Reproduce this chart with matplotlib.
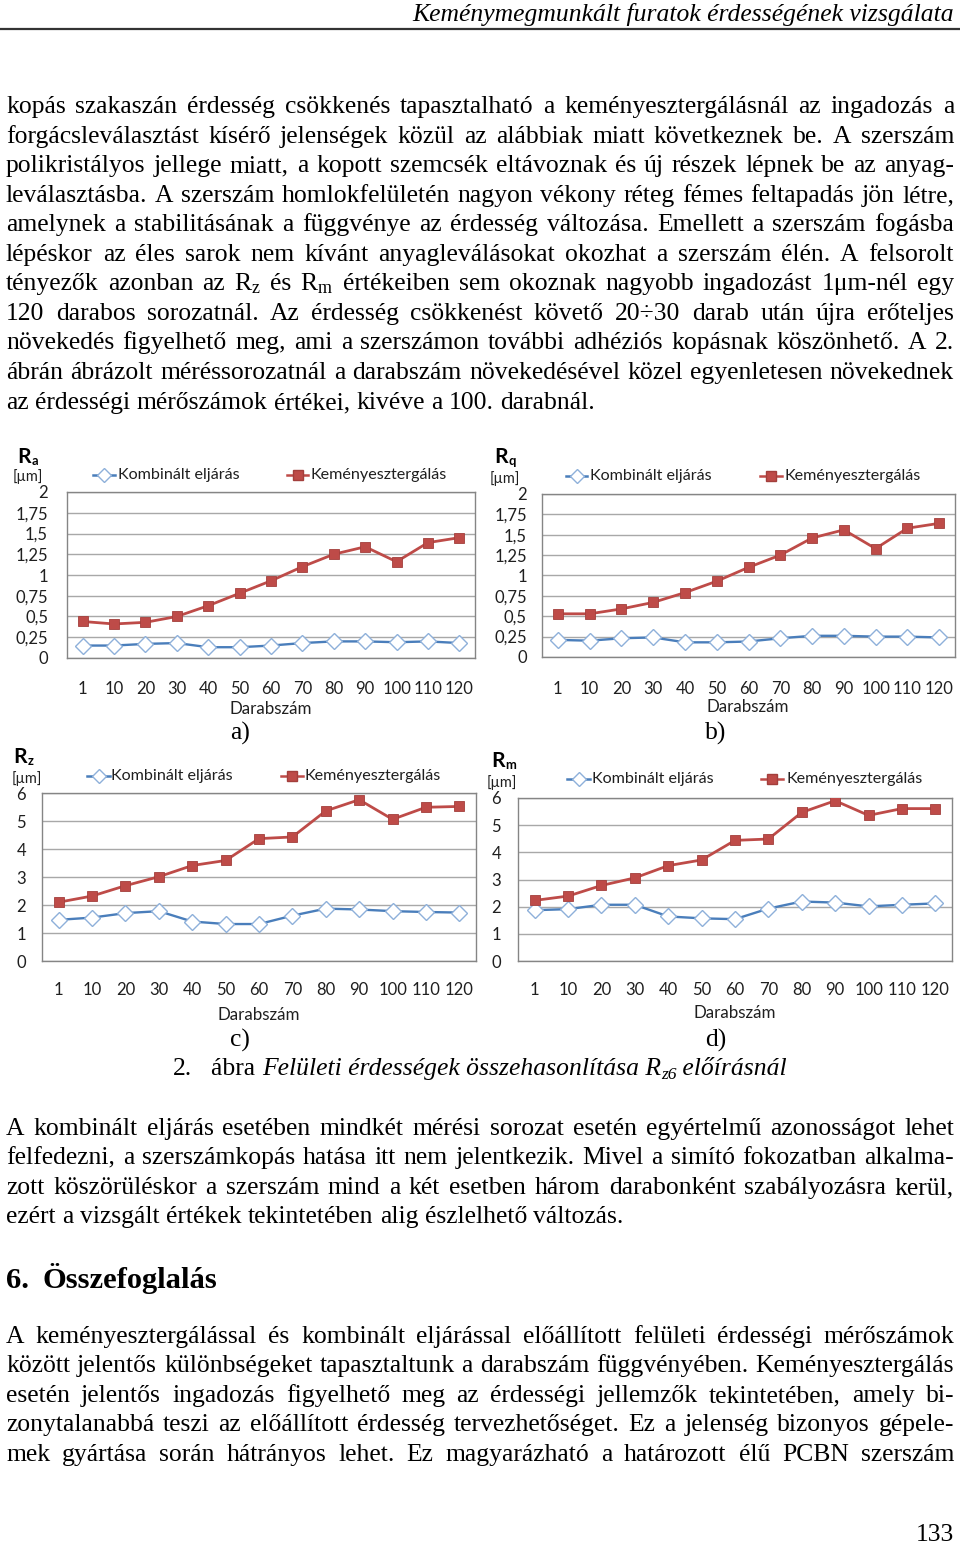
import matplotlib
matplotlib.use('Agg')
import matplotlib.pyplot as plt
from matplotlib.lines import Line2D

# ---------------- data ----------------
categories = ['1', '10', '20', '30', '40', '50', '60', '70', '80', '90', '100', '110', '120']

ra_kombinalt = [0.15, 0.15, 0.17, 0.18, 0.13, 0.13, 0.15, 0.18, 0.20, 0.20, 0.19, 0.20, 0.18]
ra_kemeny = [0.44, 0.41, 0.43, 0.50, 0.63, 0.78, 0.93, 1.10, 1.25, 1.34, 1.16, 1.39, 1.45]

rq_kombinalt = [0.21, 0.20, 0.23, 0.24, 0.18, 0.18, 0.19, 0.23, 0.26, 0.26, 0.25, 0.25, 0.24]
rq_kemeny = [0.53, 0.53, 0.59, 0.67, 0.79, 0.93, 1.10, 1.25, 1.46, 1.56, 1.33, 1.58, 1.64]

rz_kombinalt = [1.47, 1.55, 1.71, 1.78, 1.41, 1.32, 1.32, 1.62, 1.87, 1.84, 1.78, 1.75, 1.73]
rz_kemeny = [2.10, 2.32, 2.69, 3.01, 3.41, 3.59, 4.37, 4.43, 5.36, 5.76, 5.06, 5.49, 5.52]

rm_kombinalt = [1.87, 1.91, 2.07, 2.07, 1.64, 1.57, 1.54, 1.93, 2.19, 2.15, 2.01, 2.07, 2.12]
rm_kemeny = [2.23, 2.39, 2.78, 3.06, 3.51, 3.72, 4.44, 4.49, 5.47, 5.90, 5.36, 5.61, 5.61]

yticks_small = [0, 0.25, 0.5, 0.75, 1, 1.25, 1.5, 1.75, 2]
yticklabels_small = ['0', '0,25', '0,5', '0,75', '1', '1,25', '1,5', '1,75', '2']
yticks_big = [0, 1, 2, 3, 4, 5, 6]
yticklabels_big = ['0', '1', '2', '3', '4', '5', '6']

legend_labels = ['Kombinált eljárás', 'Keményesztergálás']
xlabel_text = 'Darabszám'

header_text = 'Keménymegmunkált furatok érdességének vizsgálata'

para1 = [
    "kopás szakaszán érdesség csökkenés tapasztalható a keményesztergálásnál az ingadozás a",
    "forgácsleválasztást kísérő jelenségek közül az alábbiak miatt következnek be. A szerszám",
    "polikristályos jellege miatt, a kopott szemcsék eltávoznak és új részek lépnek be az anyag-",
    "leválasztásba. A szerszám homlokfelületén nagyon vékony réteg fémes feltapadás jön létre,",
    "amelynek a stabilitásának a függvénye az érdesség változása. Emellett a szerszám fogásba",
    "lépéskor az éles sarok nem kívánt anyagleválásokat okozhat a szerszám élén. A felsorolt",
    r"tényezők azonban az R$_{\mathregular{z}}$ és R$_{\mathregular{m}}$ értékeiben sem okoznak nagyobb ingadozást 1μm-nél egy",
    "120 darabos sorozatnál. Az érdesség csökkenést követő 20÷30 darab után újra erőteljes",
    "növekedés figyelhető meg, ami a szerszámon további adhéziós kopásnak köszönhető. A 2.",
    "ábrán ábrázolt méréssorozatnál a darabszám növekedésével közel egyenletesen növekednek",
    "az érdességi mérőszámok értékei, kivéve a 100. darabnál.",
]
para2 = [
    "A kombinált eljárás esetében mindkét mérési sorozat esetén egyértelmű azonosságot lehet",
    "felfedezni, a szerszámkopás hatása itt nem jelentkezik. Mivel a simító fokozatban alkalma-",
    "zott köszörüléskor a szerszám mind a két esetben három darabonként szabályozásra kerül,",
    "ezért a vizsgált értékek tekintetében alig észlelhető változás.",
]
heading_num = '6.'
heading_text = 'Összefoglalás'
para3 = [
    "A keményesztergálással és kombinált eljárással előállított felületi érdességi mérőszámok",
    "között jelentős különbségeket tapasztaltunk a darabszám függvényében. Keményesztergálás",
    "esetén jelentős ingadozás figyelhető meg az érdességi jellemzők tekintetében, amely bi-",
    "zonytalanabbá teszi az előállított érdesség tervezhetőséget. Ez a jelenség bizonyos gépele-",
    "mek gyártása során hátrányos lehet. Ez magyarázható a határozott élű PCBN szerszám",
]
page_number = '133'

# ---------------- setup ----------------
W, H = 960, 1544
plt.rcParams['mathtext.fontset'] = 'custom'
plt.rcParams['mathtext.rm'] = 'Liberation Serif'
plt.rcParams['mathtext.it'] = 'Liberation Serif:italic'
plt.rcParams['mathtext.bf'] = 'Liberation Serif:bold'

fig = plt.figure(figsize=(W / 100, H / 100), dpi=100)
fig.patch.set_facecolor('white')
renderer = fig.canvas.get_renderer()

SERIF = 'Liberation Serif'
SANS = ['Lato', 'DejaVu Sans']
BLUE = '#4A7EBB'
LBLUE = '#8EB0DA'
RED = '#BE4B48'
DRED = '#A33F3C'
CHART_TXT = '#1f1f1f'


def fx(x):
    return x / W


def fy(y):
    return 1 - y / H


def measure(s, **kw):
    t = fig.text(0, 0, s, **kw)
    w = t.get_window_extent(renderer).width
    t.remove()
    return w


# body font size calibrated to the last line width
fs_body = 10 * 591 / measure(para1[-1], fontsize=10, family=SERIF)
BOFF = 7


def put_line(line, yc, justify=True, x0=6, x1=954, fs=None):
    fs = fs or fs_body
    words = line.split(' ')
    ws = [measure(w, fontsize=fs, family=SERIF) for w in words]
    if justify and len(words) > 1:
        gap = (x1 - x0 - sum(ws)) / (len(words) - 1)
    else:
        gap = fs * 100 / 72 * 0.25
    x = x0
    for w, wd in zip(words, ws):
        fig.text(fx(x), fy(yc + BOFF), w, fontsize=fs, family=SERIF,
                 va='baseline', ha='left', color='black')
        x += wd + gap


# header
fs_head = 10 * 542 / measure(header_text, fontsize=10, family=SERIF, style='italic')
fig.text(fx(954), fy(21), header_text, fontsize=fs_head, family=SERIF, style='italic',
         ha='right', va='baseline', color='black')
fig.add_artist(Line2D([0, 1], [fy(29), fy(29)], transform=fig.transFigure,
                      color='#333333', lw=1.6))

# paragraph 1
p1_y = [106, 136, 165, 195, 224, 254, 283, 313, 342, 372, 402]
for i, (line, yc) in enumerate(zip(para1, p1_y)):
    put_line(line, yc, justify=(i < len(para1) - 1))

# paragraph 2
p2_y = [1128, 1157, 1187, 1216]
for i, (line, yc) in enumerate(zip(para2, p2_y)):
    put_line(line, yc, justify=(i < len(para2) - 1))

# heading
fs_h = 10 * (217 - 42) / measure(heading_text, fontsize=10, family=SERIF, weight='bold')
fig.text(fx(6), fy(1280 + 8), heading_num, fontsize=fs_h, family=SERIF, weight='bold',
         va='baseline', ha='left')
fig.text(fx(42), fy(1280 + 8), heading_text, fontsize=fs_h, family=SERIF, weight='bold',
         va='baseline', ha='left')

# paragraph 3 (continues on next page -> all justified)
p3_y = [1336, 1365, 1395, 1424, 1454]
for line, yc in zip(para3, p3_y):
    put_line(line, yc, justify=True)

# page number
fig.text(fx(954), fy(1541), page_number, fontsize=fs_body, family=SERIF,
         ha='right', va='baseline')

# sub-captions
for lab, (x, y) in zip(['a)', 'b)', 'c)', 'd)'],
                       [(240, 733), (716, 733), (240, 1040), (716, 1040)]):
    fig.text(fx(x), fy(y + BOFF), lab, fontsize=fs_body, family=SERIF,
             ha='center', va='baseline')

# figure caption
cap_pieces = [
    ('2.', 'normal', 1.0, 0),
    ('   ', 'normal', 1.0, 0),
    ('ábra ', 'normal', 1.0, 0),
    ('Felületi érdességek összehasonlítása R', 'italic', 1.0, 0),
    ('z6', 'italic', 0.68, -4),
    (' előírásnál', 'italic', 1.0, 0),
]
widths = [measure(t, fontsize=fs_body * f, family=SERIF, style=st) for t, st, f, d in cap_pieces]
x = 480 - sum(widths) / 2
for (t, st, f, d), wd in zip(cap_pieces, widths):
    fig.text(fx(x), fy(1068 + BOFF - d), t, fontsize=fs_body * f, family=SERIF, style=st,
             ha='left', va='baseline')
    x += wd

# ---------------- charts ----------------
fs_chart = 10 * 122 / measure(legend_labels[0], fontsize=10, family=SANS)
fs_tick = fs_chart * 1.03


def chart(rect, komb, kemeny, yticks, yticklabels, ypad, xpad, sub, rpos, upos,
          leg, xlab_pos):
    x0, y0, x1, y1 = rect
    ax = fig.add_axes([fx(x0), fy(y1), (x1 - x0) / W, (y1 - y0) / H])
    xs = list(range(len(categories)))
    ax.plot(xs, komb, color=BLUE, lw=1.7, marker='D', ms=8.2, mfc='white',
            mec=LBLUE, mew=1.0, zorder=3)
    ax.plot(xs, kemeny, color=RED, lw=2.0, marker='s', ms=7.0, mfc=RED,
            mec=DRED, mew=0.6, zorder=4)
    ax.set_xlim(-0.5, len(categories) - 0.5)
    ax.set_ylim(yticks[0], yticks[-1])
    ax.set_yticks(yticks)
    ax.set_yticklabels(yticklabels)
    ax.set_xticks(xs)
    ax.set_xticklabels(categories)
    ax.tick_params(axis='both', length=0, labelsize=fs_tick, labelcolor=CHART_TXT)
    ax.tick_params(axis='y', pad=ypad * 72 / 100)
    ax.tick_params(axis='x', pad=xpad * 72 / 100)
    for lbl in ax.get_xticklabels() + ax.get_yticklabels():
        lbl.set_family(SANS)
    ax.grid(axis='y', color='#A8A8A8', lw=1.0)
    ax.set_axisbelow(True)
    for s in ax.spines.values():
        s.set_color('#858585')
        s.set_linewidth(1.0)
    # axis title
    fig.text(fx(xlab_pos[0]), fy(xlab_pos[1]), xlabel_text, fontsize=fs_chart * 1.05,
             family=SANS, ha='center', va='center', color=CHART_TXT)
    # symbol R with subscript
    fig.text(fx(rpos[0]), fy(rpos[1]), 'R', fontsize=fs_chart * 1.3, family=SANS,
             weight='bold', ha='right', va='baseline', color='black')
    fig.text(fx(rpos[0] + 0.5), fy(rpos[1] + 2), sub, fontsize=fs_chart * 0.8, family=SANS,
             weight='bold', ha='left', va='baseline', color='black')
    fig.text(fx(upos[0]), fy(upos[1]), '[µm]', fontsize=fs_chart * 0.9, family=SANS,
             ha='center', va='center', color=CHART_TXT)
    # legend
    yl = leg[0]
    for (la, lb, tx), lab, col, mk, mfc, mec, ms in zip(
            leg[1:], legend_labels, [BLUE, RED], ['D', 's'], ['white', RED],
            [LBLUE, DRED], [7.0, 6.5]):
        fig.add_artist(Line2D([fx(la), fx(lb)], [fy(yl), fy(yl)], transform=fig.transFigure,
                              color=col, lw=1.8))
        fig.add_artist(Line2D([fx((la + lb) / 2)], [fy(yl)], transform=fig.transFigure,
                              color=col, marker=mk, ms=ms, mfc=mfc, mec=mec, mew=1.0,
                              lw=0))
        fig.text(fx(tx), fy(yl), lab, fontsize=fs_chart, family=SANS, ha='left',
                 va='center', color=CHART_TXT)
    return ax


chart((67, 492, 475, 658), ra_kombinalt, ra_kemeny, yticks_small, yticklabels_small,
      19, 23, 'a', (31, 463), (28, 477),
      (475, (93, 115, 118), (287, 308, 310)), (271, 709))
chart((542, 494, 955, 657), rq_kombinalt, rq_kemeny, yticks_small, yticklabels_small,
      15, 24, 'q', (508, 463), (505, 479),
      (476, (566, 587, 590), (760, 782, 784)), (748, 707))
chart((42, 793, 476, 961), rz_kombinalt, rz_kemeny, yticks_big, yticklabels_big,
      16, 21, 'z', (27, 763), (27, 779),
      (776, (87, 110, 111), (281, 303, 305)), (259, 1015))
chart((518, 798, 952, 961), rm_kombinalt, rm_kemeny, yticks_big, yticklabels_big,
      17, 21, 'm', (505, 767), (502, 783),
      (779, (567, 590, 592), (761, 783, 786)), (735, 1013))

fig.savefig('out.png', dpi=100, facecolor='white')
